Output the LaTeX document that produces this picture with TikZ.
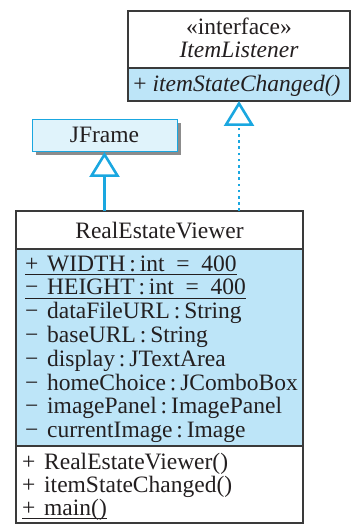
\documentclass[tikz,border=0pt]{standalone}
\usepackage{fontspec}
\setmainfont{Liberation Serif}
\usetikzlibrary{arrows.meta,shadows}
\definecolor{boxline}{HTML}{3A3A3A}
\definecolor{txt}{HTML}{231F20}
\definecolor{lblue}{HTML}{BDE5F8}
\definecolor{pblue}{HTML}{E0F3FB}
\definecolor{cyanarrow}{HTML}{1AA7E0}
\newcommand{\vis}[1]{\makebox[22pt][l]{#1}}
\newsavebox{\ulbox}
\newcommand{\ulin}[1]{\sbox{\ulbox}{#1}\rlap{\rule[-3.8pt]{\wd\ulbox}{1pt}}\usebox{\ulbox}}
\begin{document}
\begin{tikzpicture}[x=1pt,y=-1pt,
  comp/.style={draw=boxline, line width=1.2pt, inner sep=0pt, outer sep=0pt, anchor=north west},
  lbl/.style={inner sep=0pt, anchor=base west, text=txt, font=\fontsize{23.5}{24}\selectfont},
  ctr/.style={inner sep=0pt, anchor=base, text=txt, font=\fontsize{23.5}{24}\selectfont},
  inherit/.style={draw=cyanarrow, line width=2.6pt, -{Triangle[open, width=30pt, length=25pt, line width=2.6pt]}},
  realize/.style={inherit, dash pattern=on 2.6pt off 3.6pt}
]
\useasboundingbox (0,0) rectangle (353,529);
% ItemListener
\node[comp, fill=white, minimum width=222pt, minimum height=57pt] (ilh) at (128,11) {};
\node[comp, fill=lblue, minimum width=222pt, minimum height=33pt] (ilm) at (128,68) {};
\node[ctr] (ilst) at (239,35) {«interface»};
\node[ctr] (ilnm) at (239,58) {\itshape ItemListener};
\node[ctr] (ilop) at (237,92) {+\ \itshape itemStateChanged()};
% JFrame
\node[comp, draw=cyanarrow, line width=1pt, fill=pblue, minimum width=145pt, minimum height=32pt,
  drop shadow={shadow xshift=3.5pt, shadow yshift=-3pt, fill=black!45, opacity=1}] (jf) at (32,120) {};
\node[ctr] (jfnm) at (104.5,143) {JFrame};
% RealEstateViewer
\node[comp, fill=white, minimum width=287pt, minimum height=38pt] (rvh) at (16,211) {};
\node[comp, fill=lblue, minimum width=287pt, minimum height=197pt] (rva) at (16,249) {};
\node[comp, fill=white, minimum width=287pt, minimum height=77pt] (rvm) at (16,446) {};
\node[ctr] (rvnm) at (159.5,238) {RealEstateViewer};
\node[lbl] (a1) at (25,271) {\ulin{\vis{+}WIDTH\,:\,int\ \ =\ \ 400}};
\node[lbl] (a2) at (25,294.8) {\ulin{\vis{−}HEIGHT\,:\,int\ \ =\ \ 400}};
\node[lbl] (a3) at (25,318.6) {\vis{−}dataFileURL\,:\,String};
\node[lbl] (a4) at (25,342.4) {\vis{−}baseURL\,:\,String};
\node[lbl] (a5) at (25,366.2) {\vis{−}display\,:\,JTextArea};
\node[lbl] (a6) at (25,390) {\vis{−}homeChoice\,:\,JComboBox};
\node[lbl] (a7) at (25,413.8) {\vis{−}imagePanel\,:\,ImagePanel};
\node[lbl] (a8) at (25,437.6) {\vis{−}currentImage\,:\,Image};
\node[lbl] (m1) at (22,469) {\vis{+}RealEstateViewer()};
\node[lbl] (m2) at (22,492) {\vis{+}itemStateChanged()};
\node[lbl] (m3) at (22,515) {\ulin{\vis{+}main()}};
% connectors
\draw[inherit] (rvh.north -| jf.south) -- (jf.south);
\draw[realize] (rvh.north -| ilm.south) -- (ilm.south);
\end{tikzpicture}
\end{document}
